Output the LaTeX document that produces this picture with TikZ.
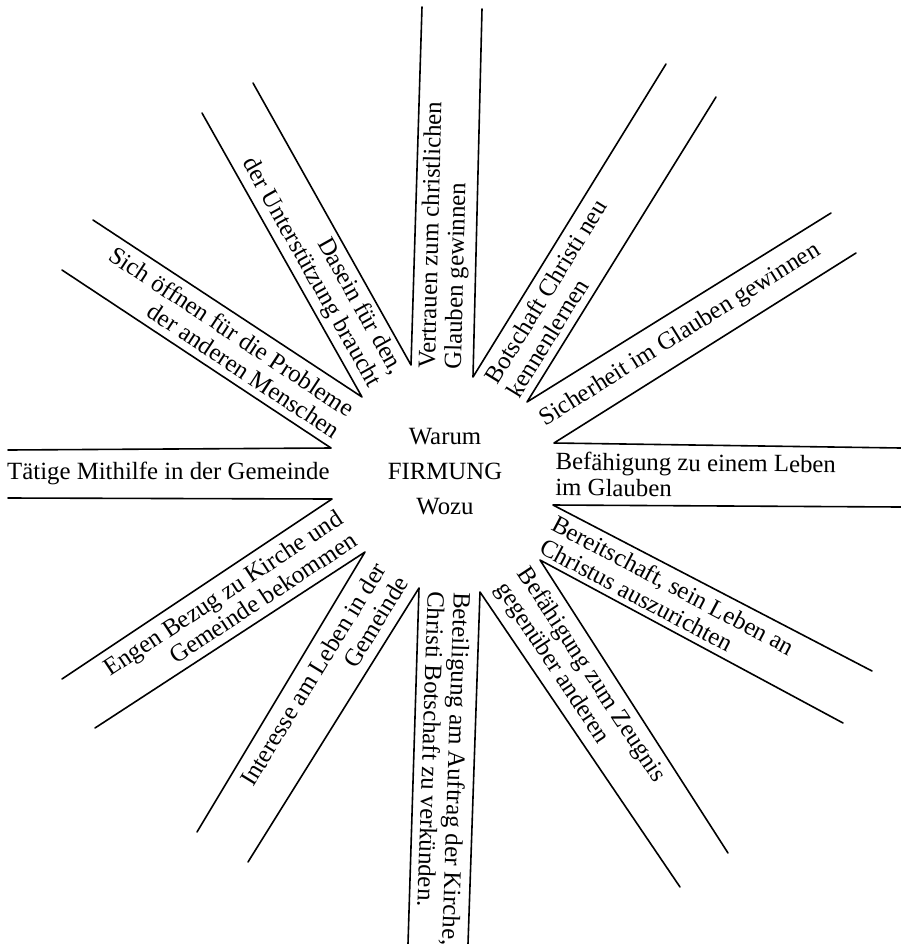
\documentclass[tikz,border=0pt]{standalone}
\usepackage{fontspec}
\setmainfont{Liberation Serif}
\usetikzlibrary{calc}

\begin{document}
\begin{tikzpicture}[x=0.5pt,y=-0.5pt,line join=round,line cap=round,thick,
  txt/.style={font=\fontsize{12.4}{13}\selectfont,inner sep=1pt,outer sep=0pt},
  inward/.style={anchor=east,align=right},
  outward/.style={anchor=west,align=left}]
\useasboundingbox (0,0) rectangle (901,944);
% inner corners of the rays
\coordinate (P1) at (411,365);
\coordinate (P2) at (473,377);
\coordinate (P3) at (527,402);
\coordinate (P4) at (554,443);
\coordinate (P5) at (553,505);
\coordinate (P6) at (540,560);
\coordinate (P7) at (480,592);
\coordinate (P8) at (419,588);
\coordinate (P9) at (365,552);
\coordinate (P10) at (332,499);
\coordinate (P11) at (331,448);
\coordinate (P12) at (362,397);
% outer ends
\coordinate (A1) at (253,83);  \coordinate (B1) at (422,7);
\coordinate (A2) at (482,9);   \coordinate (B2) at (666,64);
\coordinate (A3) at (716,97);  \coordinate (B3) at (831,213);
\coordinate (A4) at (856,253); \coordinate (B4) at (901,448);
\coordinate (A5) at (901,507); \coordinate (B5) at (872,671);
\coordinate (A6) at (843,723); \coordinate (B6) at (728,853);
\coordinate (A7) at (680,887); \coordinate (B7) at (468,944);
\coordinate (A8) at (408,944); \coordinate (B8) at (248,862);
\coordinate (A9) at (197,832); \coordinate (B9) at (95,728);
\coordinate (A10) at (62,679); \coordinate (B10) at (8,498);
\coordinate (A11) at (8,450);  \coordinate (B11) at (62,270);
\coordinate (A12) at (93,220); \coordinate (B12) at (202,113);
\foreach \k in {1,...,12}{\draw (A\k)--(P\k)--(B\k);}
% centre
\node[txt,align=center,font=\fontsize{12.4}{17.5}\selectfont] (firmung) at (445,472) {Warum\\FIRMUNG\\Wozu};
% texts of the rays
\foreach \pa/\pb/\ang/\side/\lbl in {
  12/1/-60.7/inward/{Dasein für den,\\der Unterstützung braucht},
  1/2/88.6/outward/{Vertrauen zum christlichen\\Glauben gewinnen},
  2/3/58.3/outward/{Botschaft Christi neu\\kennenlernen},
  3/4/32.0/outward/{Sicherheit im Glauben gewinnen},
  4/5/-0.6/outward/{Befähigung zu einem Leben\\im Glauben},
  5/6/-27.9/outward/{Bereitschaft, sein Leben an\\Christus auszurichten},
  6/7/-56.6/outward/{Befähigung zum Zeugnis\\gegenüber anderen},
  7/8/-91.9/outward/{Beteiligung am Auftrag der Kirche,\\Christi Botschaft zu verkünden.},
  8/9/58.5/inward/{Interesse am Leben in der\\Gemeinde},
  9/10/33.4/inward/{Engen Bezug zu Kirche und\\Gemeinde bekommen},
  10/11/0/inward/{Tätige Mithilfe in der Gemeinde},
  11/12/-33.4/inward/{Sich öffnen für die Probleme\\der anderen Menschen}}
  {\node[txt,\side,rotate=\ang] (ray\pa) at ($(P\pa)!0.5!(P\pb)$) {\lbl};}
\end{tikzpicture}
\end{document}
